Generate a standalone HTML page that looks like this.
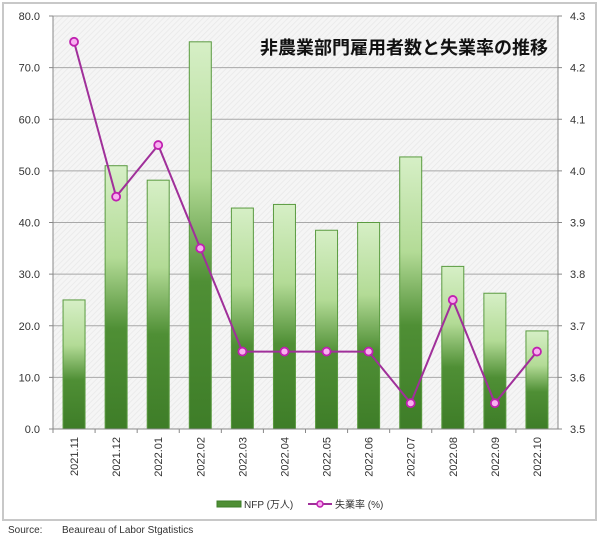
<!DOCTYPE html>
<html><head><meta charset="utf-8"><style>
body{margin:0;background:#fff;width:600px;height:539px;overflow:hidden;font-family:"Liberation Sans","Noto Sans CJK JP",sans-serif}
</style></head><body>
<svg id="c" width="600" height="539" xmlns="http://www.w3.org/2000/svg">
<defs>
<pattern id="hatch" width="4" height="4" patternUnits="userSpaceOnUse" patternTransform="rotate(45)">
<rect width="4" height="4" fill="#f5f5f5"/><line x1="0" y1="0" x2="0" y2="4" stroke="#e8e8e8" stroke-width="1.5"/></pattern>
<linearGradient id="bg" x1="0" y1="0" x2="0" y2="1">
<stop offset="0" stop-color="#d6efc6"/><stop offset="0.35" stop-color="#b3db96"/><stop offset="0.62" stop-color="#4f8f35"/><stop offset="1" stop-color="#3e7d28"/></linearGradient>
</defs>
<rect x="3" y="3" width="593" height="517" fill="#fff" stroke="#c8c8c8" stroke-width="2"/>
<rect x="53" y="16" width="505" height="413" fill="url(#hatch)"/>
<g id="grid"></g><g id="bars"></g><g id="line"></g><g id="axes"></g>
<text x="548" y="54" text-anchor="end" font-size="18" font-weight="bold" fill="#111">非農業部門雇用者数と失業率の推移</text>
<g>
<rect x="217" y="501" width="24" height="6" fill="#4f8f35" stroke="#3e7d28"/>
<text x="244" y="508" font-size="10" fill="#333">NFP (万人)</text>
<line x1="308" y1="504" x2="332" y2="504" stroke="#a0309a" stroke-width="2"/>
<circle cx="320" cy="504" r="3" fill="#f8b0f0" stroke="#c020b0" stroke-width="1.5"/>
<text x="335" y="508" font-size="10" fill="#333">失業率 (%)</text>
</g>
<text x="8" y="533" font-size="10" fill="#333">Source:</text>
<text x="62" y="533" font-size="10" fill="#333">Beaureau of Labor Stgatistics</text>
</svg>
<script>
const categories=["2021.11","2021.12","2022.01","2022.02","2022.03","2022.04","2022.05","2022.06","2022.07","2022.08","2022.09","2022.10"];
const nfp=[25,51,48.2,75,42.8,43.5,38.5,40,52.7,31.5,26.3,19];
const rate=[4.25,3.95,4.05,3.85,3.65,3.65,3.65,3.65,3.55,3.75,3.55,3.65];
const leftTicks=[0,10,20,30,40,50,60,70,80];
const rightTicks=[3.5,3.6,3.7,3.8,3.9,4.0,4.1,4.2,4.3];
const L=53,R=558,T=16,B=429;
const ns="http://www.w3.org/2000/svg";
const step=(R-L)/categories.length;
const xc=i=>L+step*(i+0.5);
const yl=v=>B-(v-0)/(80-0)*(B-T);
const yr=v=>B-(v-3.5)/(4.3-3.5)*(B-T);
function mk(t,a,p){const e=document.createElementNS(ns,t);for(const k in a)e.setAttribute(k,a[k]);document.getElementById(p).appendChild(e);return e;}
leftTicks.forEach((v,i)=>{
  if(v>0){const g=mk('line',{x1:L,x2:R,y1:yl(v),y2:yl(v),stroke:'#a8a8a8','stroke-width':1},'grid');
  
  }
  const t=mk('text',{x:L-13,y:yl(v)+4,'text-anchor':'end','font-size':11,fill:'#333'},'axes');t.textContent=v.toFixed(1);
  
  
  mk('line',{x1:L-4,x2:L,y1:yl(v),y2:yl(v),stroke:'#888'},'axes');
});
rightTicks.forEach(v=>{
  const t=mk('text',{x:R+12,y:yr(v)+4,'font-size':11,fill:'#333'},'axes');t.textContent=v.toFixed(1);
  
  
  mk('line',{x1:R,x2:R+4,y1:yr(v),y2:yr(v),stroke:'#888'},'axes');
});
mk('line',{x1:L,x2:L,y1:T,y2:B,stroke:'#888'},'axes');
mk('line',{x1:R,x2:R,y1:T,y2:B,stroke:'#888'},'axes');
mk('line',{x1:L,x2:R,y1:B,y2:B,stroke:'#888'},'axes');
categories.forEach((c,i)=>{
  mk('line',{x1:L+step*i,x2:L+step*i,y1:B,y2:B+4,stroke:'#888'},'axes');
  const b=mk('rect',{x:xc(i)-11,y:yl(nfp[i]),width:22,height:B-yl(nfp[i]),fill:'url(#bg)',stroke:'#5a9a40','stroke-width':1},'bars');
  
  
  const t=mk('text',{x:0,y:0,'text-anchor':'end','font-size':11,fill:'#333',transform:`translate(${xc(i)+4},437) rotate(-90)`},'axes');t.textContent=c;
  
  
});
const pl=mk('polyline',{points:rate.map((v,i)=>xc(i)+','+yr(v)).join(' '),fill:'none',stroke:'#a0309a','stroke-width':2},'line');


rate.forEach((v,i)=>{
  const p=mk('circle',{cx:xc(i),cy:yr(v),r:4,fill:'#f8b0f0',stroke:'#c020b0','stroke-width':1.8},'line');
  
  
});
</script>
</body></html>
